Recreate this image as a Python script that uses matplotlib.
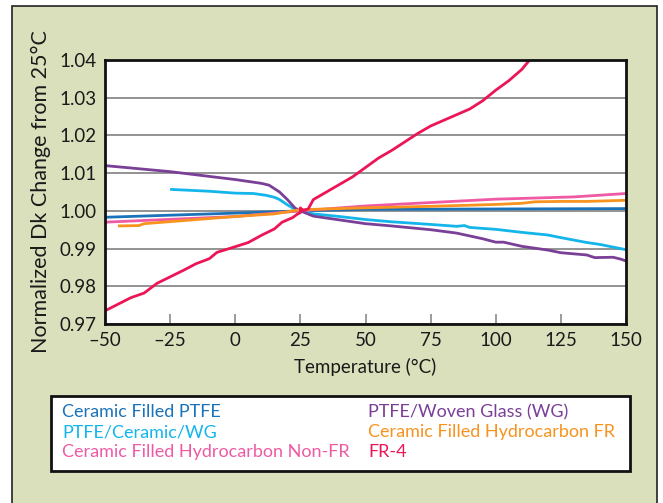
import matplotlib
matplotlib.use("Agg")
import matplotlib.pyplot as plt
from matplotlib.patches import Rectangle

plt.rcParams['font.family'] = ['Lato', 'DejaVu Sans']

# ---- data -------------------------------------------------------------
series_names = [
    "Ceramic Filled PTFE",
    "PTFE/Ceramic/WG",
    "Ceramic Filled Hydrocarbon Non-FR",
    "PTFE/Woven Glass (WG)",
    "Ceramic Filled Hydrocarbon FR",
    "FR-4",
]
series_colors = ["#1a72b9", "#13b5ea", "#ee5ba4", "#7a3f97", "#f7931e", "#ec1556"]

cf_ptfe_t = [-50, 0, 25, 50, 100, 150]
cf_ptfe_v = [0.9983, 0.9994, 1.0000, 1.0004, 1.0005, 1.0006]

ptfe_cer_wg_t = [-25, -10, 0, 7, 12, 15, 17, 20, 23, 25, 30, 40, 50, 60, 75, 85, 88,
                 90, 100, 110, 120, 125, 135, 140, 150]
ptfe_cer_wg_v = [1.0057, 1.0052, 1.0047, 1.0046, 1.0041, 1.0036, 1.0030, 1.0016,
                 1.0004, 1.0000, 0.9992, 0.9985, 0.9977, 0.9971, 0.9964, 0.9959,
                 0.9961, 0.9956, 0.9951, 0.9943, 0.9936, 0.9929, 0.9916, 0.9911,
                 0.9897]

cfh_nonfr_t = [-50, 0, 25, 50, 100, 130, 150]
cfh_nonfr_v = [0.9970, 0.9985, 1.0000, 1.0013, 1.0031, 1.0037, 1.0046]

ptfe_wg_t = [-50, -25, 0, 10, 13, 17, 20, 23, 25, 30, 40, 50, 60, 75, 85, 95, 100,
             103, 110, 120, 125, 130, 135, 138, 145, 148, 150]
ptfe_wg_v = [1.0120, 1.0104, 1.0083, 1.0073, 1.0068, 1.0050, 1.0030, 1.0007, 1.0000,
             0.9986, 0.9976, 0.9966, 0.9960, 0.9950, 0.9941, 0.9926, 0.9917, 0.9917,
             0.9906, 0.9896, 0.9889, 0.9886, 0.9883, 0.9876, 0.9877, 0.9872, 0.9867]

cfh_fr_t = [-45, -37, -35, 0, 15, 25, 50, 75, 100, 110, 115, 125, 135, 150]
cfh_fr_v = [0.9960, 0.9961, 0.9966, 0.9985, 0.9992, 1.0003, 1.0008, 1.0012, 1.0017,
            1.0020, 1.0024, 1.0025, 1.0025, 1.0028]

fr4_t = [-50, -40, -35, -30, -25, -20, -15, -10, -7, 0, 5, 10, 15, 18, 22, 24, 25,
         25, 26, 28, 30, 35, 40, 45, 50, 55, 60, 70, 75, 80, 90, 95, 100, 105, 110, 113]
fr4_v = [0.9735, 0.9770, 0.9782, 0.9808, 0.9825, 0.9842, 0.9860, 0.9873, 0.9890,
         0.9905, 0.9916, 0.9935, 0.9952, 0.9970, 0.9982, 0.9992, 0.9995, 1.0008,
         1.0001, 1.0005, 1.0030, 1.0050, 1.0070, 1.0090, 1.0115, 1.0140, 1.0160,
         1.0205, 1.0225, 1.0240, 1.0270, 1.0292, 1.0320, 1.0345, 1.0375, 1.0400]

series_t = [cf_ptfe_t, ptfe_cer_wg_t, cfh_nonfr_t, ptfe_wg_t, cfh_fr_t, fr4_t]
series_v = [cf_ptfe_v, ptfe_cer_wg_v, cfh_nonfr_v, ptfe_wg_v, cfh_fr_v, fr4_v]

x_ticks = [-50, -25, 0, 25, 50, 75, 100, 125, 150]
x_tick_labels = ["\u201350", "\u201325", "0", "25", "50", "75", "100", "125", "150"]
y_ticks = [0.97, 0.98, 0.99, 1.00, 1.01, 1.02, 1.03, 1.04]
y_tick_labels = ["0.97", "0.98", "0.99", "1.00", "1.01", "1.02", "1.03", "1.04"]

# ---- figure -----------------------------------------------------------
W, H = 663, 503
bg = "#dbe0bc"
fig = plt.figure(figsize=(W / 100, H / 100), dpi=100)
fig.patch.set_facecolor("white")

# tinted panel behind everything
fig.add_artist(Rectangle((12 / W, -0.02), (657 - 12) / W, (H - 6) / H + 0.02,
                         transform=fig.transFigure, facecolor=bg,
                         edgecolor="#222222", linewidth=1.2, zorder=0))

ax = fig.add_axes([105 / W, (H - 324) / H, (626 - 105) / W, (324 - 60) / H])
ax.set_facecolor("white")

for t, v, c in zip(series_t, series_v, series_colors):
    ax.plot(t, v, color=c, linewidth=2.0, solid_capstyle="butt", zorder=3)

ax.set_xlim(-50, 150)
ax.set_ylim(0.97, 1.04)
ax.set_xticks(x_ticks)
ax.set_xticklabels(x_tick_labels, fontsize=13.5)
ax.set_yticks(y_ticks)
ax.set_yticklabels(y_tick_labels, fontsize=13.5)
ax.tick_params(axis="x", direction="in", length=7, width=1.2, color="#8a8a8a",
               pad=6, labelcolor="#1a1a1a")
ax.tick_params(axis="y", length=0, pad=6, labelcolor="#1a1a1a")
ax.grid(axis="y", color="#8a8a8a", linewidth=1.3, zorder=1)
ax.set_axisbelow(True)
for s in ax.spines.values():
    s.set_linewidth(2.0)
    s.set_color("#111111")
    s.set_zorder(4)

ax.set_xlabel("Temperature (\u00b0C)", fontsize=13.5, color="#1a1a1a", labelpad=6)
ax.set_ylabel("Normalized Dk Change from 25\u00b0C", fontsize=15.5,
              color="#1a1a1a", labelpad=6)

# ---- key box ----------------------------------------------------------
box_l, box_r, box_t, box_b = 51, 630, 396, 471
fig.add_artist(Rectangle((box_l / W, (H - box_b) / H), (box_r - box_l) / W,
                         (box_b - box_t) / H, transform=fig.transFigure,
                         facecolor="white", edgecolor="#111111", linewidth=2.0,
                         zorder=2))
col_x = [62, 368]
row_y = [412, 432, 452]
for i, (name, c) in enumerate(zip(series_names, series_colors)):
    col, row = divmod(i, 3)
    fig.text(col_x[col] / W, (H - row_y[row]) / H, name, color=c, fontsize=13,
             ha="left", va="center", zorder=3)

fig.savefig("out.png", dpi=100, facecolor=fig.get_facecolor())
